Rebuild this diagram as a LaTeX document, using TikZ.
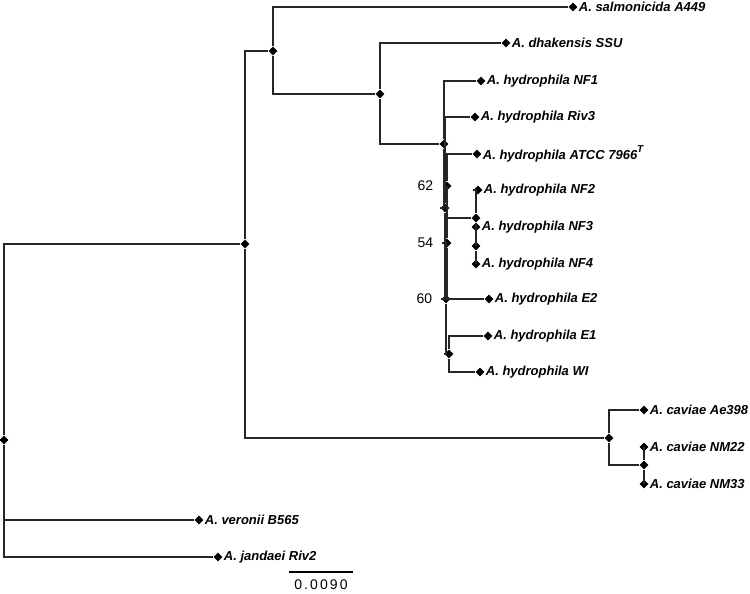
\documentclass[tikz,border=0pt]{standalone}
\usepackage{fontspec}
\setmainfont{Liberation Sans}
\usetikzlibrary{shapes.geometric,positioning}

\begin{document}
\begin{tikzpicture}[x=1pt,y=-1pt,
  dot/.style={diamond,fill=black,draw=none,inner sep=0pt,minimum size=9pt},
  lab/.style={inner sep=0pt,font=\fontsize{13}{15}\selectfont\bfseries\itshape},
  boot/.style={inner sep=0pt,anchor=east,font=\fontsize{14}{16}\selectfont},
  br/.style={draw=black!85,line width=1.3pt}]
\useasboundingbox (0,0) rectangle (750,594);
%================================================================
%	Inner nodes
\node[style=dot] (r) at (4,440) {};
\node[style=dot] (m) at (245,244) {};
\node[style=dot] (a) at (273,51) {};
\node[style=dot] (b) at (380,94) {};
\node[style=dot] (c) at (444,144) {};
\node[style=dot] (x1) at (445,208) {};
\node[style=dot] (n60) at (446,299) {};
\node[style=dot] (n54) at (447,243) {};
\node[style=dot] (n62) at (447,186) {};
\node[style=dot] (nfs) at (476,218) {};
\node[style=dot] (nf34) at (476,246) {};
\node[style=dot] (ew) at (449,354) {};
\node[style=dot] (cav) at (609,438) {};
\node[style=dot] (nm) at (644,465) {};
%----------------------------------------------------------------
%	Tips
\node[style=dot] (sal) at (573,7) {};
\node[style=dot] (dha) at (506,43) {};
\node[style=dot] (nf1) at (481,81) {};
\node[style=dot] (riv3) at (475,117) {};
\node[style=dot] (atcc) at (477,154) {};
\node[style=dot] (nf2) at (478,190) {};
\node[style=dot] (nf3) at (476,227) {};
\node[style=dot] (nf4) at (476,264) {};
\node[style=dot] (e2) at (489,299) {};
\node[style=dot] (e1) at (488,336) {};
\node[style=dot] (wi) at (480,372) {};
\node[style=dot] (ae) at (644,410) {};
\node[style=dot] (nm22) at (644,447) {};
\node[style=dot] (nm33) at (644,484) {};
\node[style=dot] (ver) at (199,520) {};
\node[style=dot] (jan) at (218,557) {};

%================================================================
%	Lines
\draw[br] (r) |- (m);
\draw[br] (r) |- (ver);
\draw[br] (r) |- (jan);
%----------------------------------------------------------------
\draw[br] (m) |- (a);
\draw[br] (m) |- (cav);
\draw[br] (a) |- (sal);
\draw[br] (a) |- (b);
\draw[br] (b) |- (dha);
\draw[br] (b) |- (c);
%----------------------------------------------------------------
\draw[br] (c) |- (nf1);
\draw[br] (c) |- (x1);
\draw[br] (x1) |- (riv3);
\draw[br] (x1) |- (n60);
\draw[br] (n60) |- (n54);
\draw[br] (n60) |- (ew);
\draw[br] (n54) |- (n62);
\draw[br] (n54) |- (e2);
\draw[br] (n62) |- (atcc);
\draw[br] (n62) |- (nfs);
\draw[br] (nfs) |- (nf2);
\draw[br] (nfs) |- (nf34);
\draw[br] (nf34) |- (nf3);
\draw[br] (nf34) |- (nf4);
\draw[br] (ew) |- (e1);
\draw[br] (ew) |- (wi);
%----------------------------------------------------------------
\draw[br] (cav) |- (ae);
\draw[br] (cav) |- (nm);
\draw[br] (nm) |- (nm22);
\draw[br] (nm) |- (nm33);

%================================================================
%	Labels
\node[lab, right=1pt of sal] {A. salmonicida A449};
\node[lab, right=1pt of dha] {A. dhakensis SSU};
\node[lab, right=1pt of nf1] {A. hydrophila NF1};
\node[lab, right=1pt of riv3] {A. hydrophila Riv3};
\node[lab, right=1pt of atcc] {A. hydrophila ATCC 7966\raisebox{0.55em}{\fontsize{10}{12}\selectfont T}};
\node[lab, right=1pt of nf2] {A. hydrophila NF2};
\node[lab, right=1pt of nf3] {A. hydrophila NF3};
\node[lab, right=1pt of nf4] {A. hydrophila NF4};
\node[lab, right=1pt of e2] {A. hydrophila E2};
\node[lab, right=1pt of e1] {A. hydrophila E1};
\node[lab, right=1pt of wi] {A. hydrophila WI};
\node[lab, right=1pt of ae] {A. caviae Ae398};
\node[lab, right=1pt of nm22] {A. caviae NM22};
\node[lab, right=1pt of nm33] {A. caviae NM33};
\node[lab, right=1pt of ver] {A. veronii B565};
\node[lab, right=1pt of jan] {A. jandaei Riv2};
%----------------------------------------------------------------
\node[boot, left=9pt of n62] {62};
\node[boot, left=9pt of n54] {54};
\node[boot, left=9pt of n60] {60};

%================================================================
%	Scale
\coordinate (s1) at (289,572);
\coordinate (s2) at (353,572);
\draw[line width=2.5pt] (s1) -- (s2);
\node[font=\fontsize{14}{16}\selectfont\addfontfeature{LetterSpace=15}] at (321,585) {0.0090};
%================================================================
\end{tikzpicture}
\end{document}
